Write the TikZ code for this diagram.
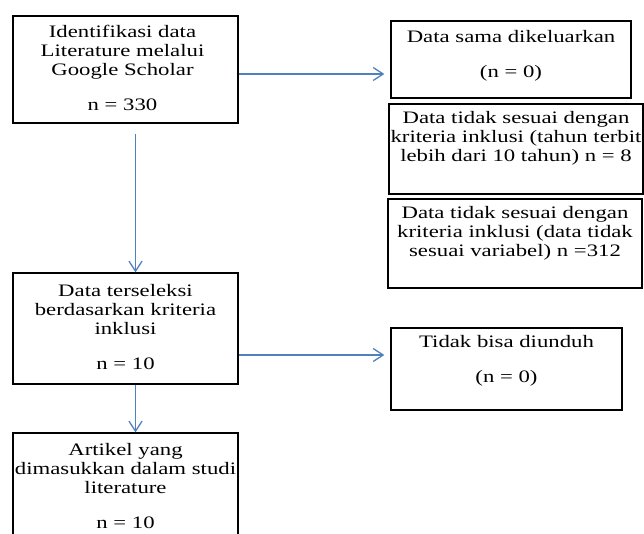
\documentclass[tikz,border=0pt]{standalone}
\usepackage{fontspec}
\setmainfont{Liberation Serif}[FakeStretch=1.3]
\usepackage{tikz}
\usetikzlibrary{fit}
\usetikzlibrary{arrows.meta}
\definecolor{flowblue}{RGB}{79,129,189}

\begin{document}
\begin{tikzpicture}[x=1pt, y=-1pt,
	every label/.style={align=center, font=\fontsize{17.5}{19}\selectfont},
	box/.style={draw, line width=1.3pt, inner sep=0pt},
	arr/.style={flowblue, line width=1.3pt, -{Straight Barb[length=10pt,width=13pt]}}]
	\useasboundingbox (0,0) rectangle (644,534);

	\node[box, fit={(13,16) (238,123)}, label={[xshift=-3pt, yshift=2pt]center:{Identifikasi data\\Literature melalui\\Google Scholar\\[16pt]n = 330}}] (A) {};	% left column
	\node[box, fit={(13,273) (238,384)}, label={[yshift=1pt]center:{Data terseleksi\\berdasarkan kriteria\\inklusi\\[16pt]n = 10}}] (E) {};
	\node[box, fit={(13,433) (238,540)}, label={center:{Artikel yang\\dimasukkan dalam studi\\literature\\[16pt]n = 10}}] (G) {};

	\node[box, fit={(391,21) (631,98)}, label={[yshift=4pt]center:{Data sama dikeluarkan\\[16pt](n = 0)}}] (B) {};	% right column
	\node[box, fit={(389,104) (643,194)}, label={[yshift=11pt]center:{Data tidak sesuai dengan\\kriteria inklusi (tahun terbit\\lebih dari 10 tahun) n = 8}}] (C) {};
	\node[box, fit={(388,199) (642,288)}, label={[yshift=10pt]center:{Data tidak sesuai dengan\\kriteria inklusi (data tidak\\sesuai variabel) n =312}}] (D) {};
	\node[box, fit={(391,328) (622,410)}, label={[yshift=8pt]center:{Tidak bisa diunduh\\[16pt](n = 0)}}] (F) {};

	\draw[arr, shorten >=6pt] ([yshift=-4.5pt]A.east) -- ([yshift=-4.5pt]A.east -| B.west);	% arrows
	\draw[arr] ([xshift=10pt, yshift=-10pt]A.south) -- ([xshift=10pt]E.north);
	\draw[arr, shorten >=6pt] ([yshift=-26.5pt]E.east) -- ([yshift=-26.5pt]E.east -| F.west);
	\draw[arr] ([xshift=10pt]E.south) -- ([xshift=10pt]G.north);
\end{tikzpicture}
\end{document}
